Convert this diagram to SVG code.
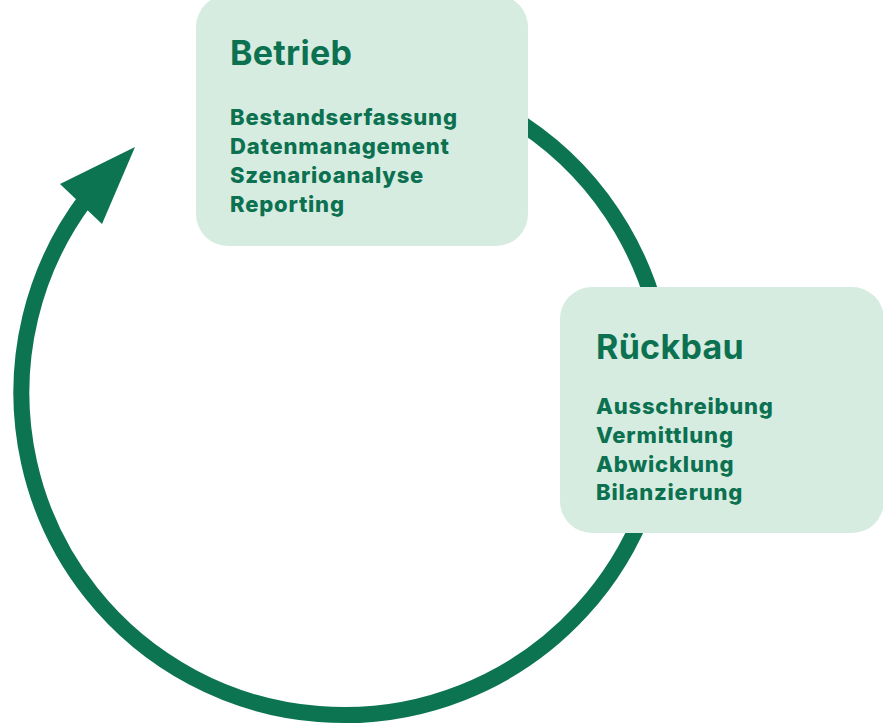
<svg xmlns="http://www.w3.org/2000/svg" width="883" height="728" viewBox="0 0 883 728">
<style>
.ring{fill:none;stroke:#0c7450;stroke-width:16}
.head{fill:#0c7450}
.box{fill:#d6ece1}
.title{font-family:Inter,"Liberation Sans",sans-serif;font-weight:700;font-size:34px;fill:#0c7150;letter-spacing:0.3px}
.item{font-family:Inter,"Liberation Sans",sans-serif;font-weight:800;font-size:22px;fill:#0c7150;letter-spacing:0.8px}
</style>
<g id="connectors">
<path class="ring" d="M 400 75 A 322.5 322.5 0 1 1 86.4 198.4"/>
<polygon class="head" points="135,147 60,184 102,224"/>
</g>
<g id="betrieb">
<rect class="box" x="196" y="-5" width="332" height="251" rx="32"/>
<text class="title" x="230" y="65">Betrieb</text>
<text class="item" x="230" y="125">Bestandserfassung</text>
<text class="item" x="230" y="154">Datenmanagement</text>
<text class="item" x="230" y="183">Szenarioanalyse</text>
<text class="item" x="230" y="212">Reporting</text>
</g>
<g id="rueckbau">
<rect class="box" x="560" y="287" width="324" height="246" rx="32"/>
<text class="title" x="596" y="359">Rückbau</text>
<text class="item" x="596" y="414">Ausschreibung</text>
<text class="item" x="596" y="443">Vermittlung</text>
<text class="item" x="596" y="472">Abwicklung</text>
<text class="item" x="596" y="500">Bilanzierung</text>
</g>
</svg>
